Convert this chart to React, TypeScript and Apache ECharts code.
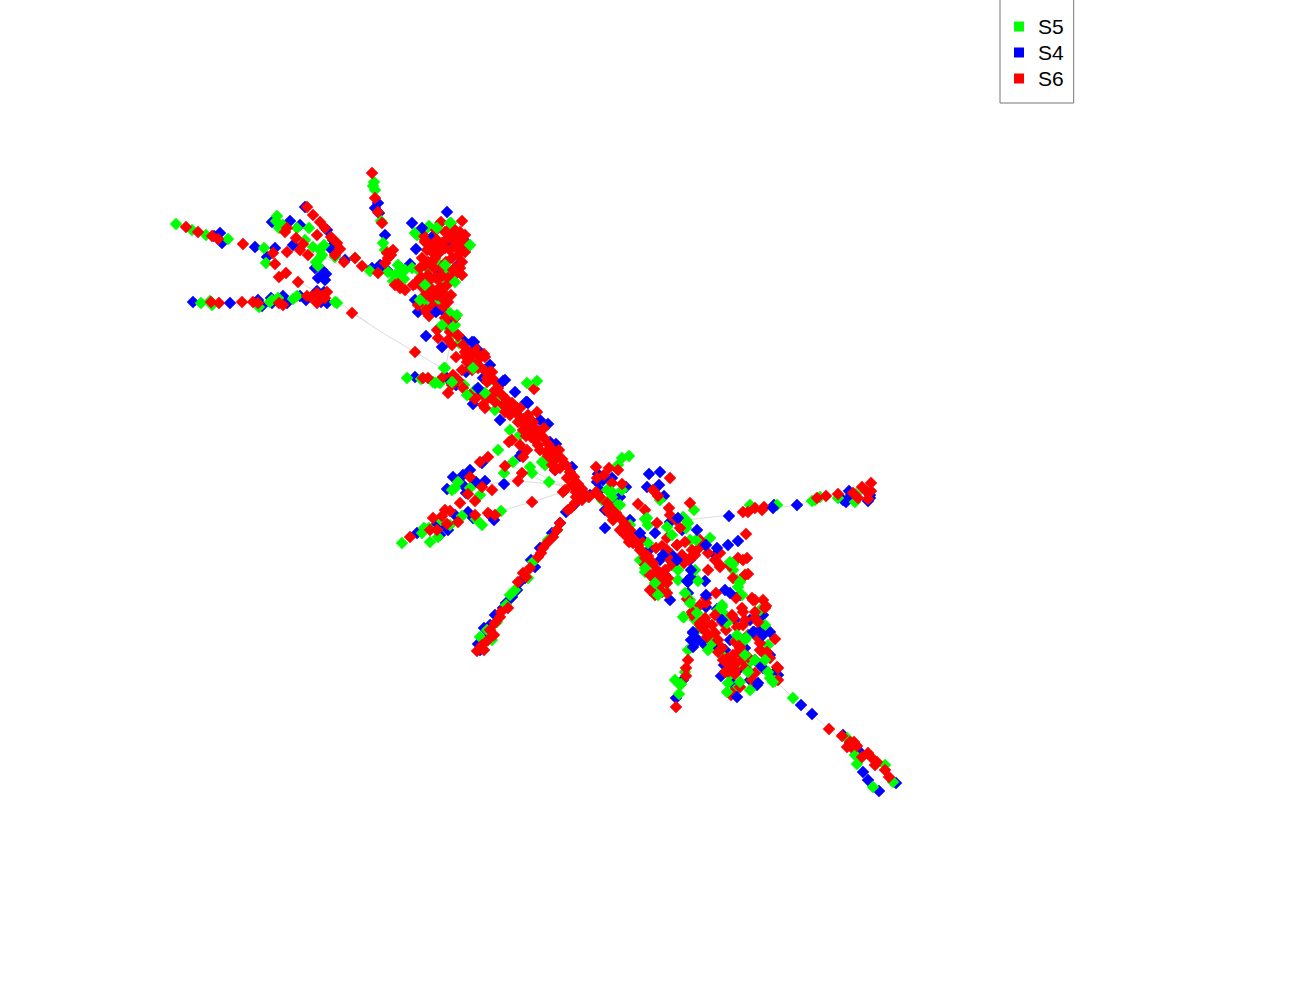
import React, { useEffect, useRef } from "react";
import * as echarts from "echarts";

const S4: number[][] = [
[220,233],[222,243],[214,236],[255,247],[275,248],[267,257],[230,303],[193,302],[258,300],[262,306],[272,303],[271,298],[283,296],[287,303],[300,296],[306,300],[317,291],[321,302],[327,303],[324,292],
[272,222],[290,221],[300,225],[305,207],[327,230],[333,240],[336,245],[293,245],[330,248],[345,260],[315,268],[322,270],[323,276],[318,278],[326,274],[325,280],[375,208],[378,203],[379,213],[385,235],[372,268],[380,265],[387,270],[410,264],[432,237],[422,302],[415,300],[418,312],[445,313],[438,275],[451,244],[458,265],[464,240],
[452,322],[463,340],[474,342],[478,350],[490,365],[483,378],[505,380],[526,402],[528,403],[510,405],[540,420],[548,424],[550,442],[556,444],[555,470],[572,467],[603,480],[598,474],[473,404],[415,377],[447,378],[456,385],[466,372],[500,420],[520,456],[522,453],
[482,463],[470,470],[453,477],[463,475],[463,485],[476,482],[485,481],[447,489],[466,493],[504,484],[468,512],[494,520],[448,530],[417,533],[473,518],[490,515],[455,515],[445,526],[440,535],[436,525],
[480,650],[478,644],[485,640],[489,632],[484,628],[495,615],[503,608],[512,597],[517,590],[520,582],[531,560],[540,548],[552,533],[560,523],[566,512],[574,505],[535,567],[525,578],[506,603],[490,625],
[590,495],[600,490],[597,482],[612,478],[615,500],[620,497],[626,487],[649,474],[647,487],[659,485],[664,496],[660,472],[605,510],[630,520],[641,538],[655,533],[670,522],[682,530],[650,549],[660,560],[665,575],[672,555],[690,560],[705,545],[715,555],[738,541],[797,505],[774,505],[843,500],[849,491],[851,495],[846,502],[868,501],[870,498],[850,498],
[705,581],[688,582],[691,577],[670,600],[688,593],[725,590],[706,607],[717,609],[727,617],[735,620],[740,595],[763,615],[760,630],[770,632],[754,632],[750,620],[693,633],[698,640],[705,645],[716,646],[725,650],[730,640],[738,670],[750,680],[721,676],[760,665],[770,655],[775,672],[778,675],[763,668],[755,660],[745,648],[757,685],[724,665],[732,683],[683,680],[676,698],[691,640],
[801,705],[812,714],[860,752],[863,772],[868,780],[879,791],[896,783],[850,743],[843,735],[870,495]
];

const S5: number[][] = [
[176,224],[192,230],[206,235],[228,239],[264,248],[266,263],[201,303],[212,305],[210,301],[259,307],[270,302],[278,298],[293,299],[297,296],[337,303],[335,302],[272,300],
[277,216],[276,221],[279,228],[283,225],[297,228],[309,228],[305,240],[313,247],[320,250],[322,255],[316,262],[318,266],[320,258],[335,257],[355,258],[324,245],[374,182],[373,186],[375,190],[381,221],[383,243],[385,250],[370,271],[398,265],[400,272],[395,275],[388,272],[393,281],[404,279],[401,268],[412,268],[405,270],[399,278],[417,235],[423,232],[429,226],[440,223],[451,223],[468,247],[452,232],[433,250],[429,270],[440,265],[448,272],[418,270],[442,283],[447,296],[438,300],[425,305],[450,313],[445,325],[455,325],[453,333],[459,343],
[445,368],[407,378],[433,382],[438,382],[440,383],[421,379],[464,385],[475,390],[490,380],[500,395],[512,410],[530,423],[520,435],[505,405],[495,410],[510,430],[535,440],[542,462],[545,465],[549,482],[498,450],[513,462],[530,467],[532,473],[504,473],[501,511],[482,525],[476,519],[462,516],[480,495],[455,488],[470,488],[402,543],[430,542],[429,528],[422,533],[450,525],[438,537],[452,490],[458,482],[424,528],[441,520],
[492,640],[483,645],[480,637],[487,630],[497,622],[510,595],[528,578],[533,562],[548,540],[506,605],[515,590],[557,530],
[588,497],[602,500],[612,497],[617,505],[622,490],[618,465],[629,456],[622,458],[607,490],[648,525],[645,519],[683,517],[686,528],[660,500],[690,540],[648,543],[630,525],[640,560],[645,572],[660,580],[665,590],[656,586],[695,570],[730,565],[733,570],[737,580],[742,595],[745,575],[678,580],[684,617],[690,600],[722,605],[725,615],[718,610],[694,610],[715,640],[722,655],[712,643],[736,640],[738,665],[750,662],[735,690],[730,675],[765,652],[775,681],[770,678],[768,645],[700,628],[695,620],[675,680],[681,684],[685,672],[688,650],[760,610],[765,625],[745,640],[748,670],
[793,698],[857,764],[873,787],[885,765],[893,782],[812,501],[855,502],[820,497],[838,498],[815,500],[777,505],[856,494],[750,505],[847,738],[855,755],[710,538],[686,520],[694,510]
];

const S6: number[][] = [
[186,227],[198,232],[212,236],[218,239],[243,244],[273,253],[275,264],[287,252],[279,277],[286,273],[298,282],[307,207],[313,215],[320,222],[287,228],[296,238],[317,235],[331,237],[308,255],[300,250],[340,249],[344,262],[335,255],[325,228],[285,232],[303,244],[337,243],[362,266],[355,258],
[211,302],[219,303],[242,302],[253,302],[258,303],[279,303],[307,296],[317,303],[317,293],[327,292],[325,298],[352,313],[415,352],[311,297],[322,296],[283,305],
[372,173],[375,198],[378,212],[382,223],[393,250],[387,253],[388,258],[378,273],[400,288],[395,285],[413,285],[391,255],[385,263],[405,290],[398,284],
[441,222],[462,221],[425,240],[430,245],[437,240],[445,232],[450,228],[455,230],[460,232],[465,235],[463,240],[458,236],[453,240],[448,238],[442,243],[436,246],[432,252],[427,250],[422,258],[428,262],[435,258],[440,252],[445,248],[450,250],[455,246],[460,248],[465,252],[458,255],[452,258],[446,262],[441,268],[434,268],[428,275],[420,268],[425,282],[430,280],[436,278],[442,276],[448,278],[440,287],[433,290],[427,292],[421,286],[415,284],[424,296],[418,305],[431,298],[437,295],[444,300],[451,295],[455,275],[460,268],[462,262],[453,270],[447,285],[420,278],[426,310],[433,306],[438,310],[429,316],[444,306],[423,235],[436,230],[432,262],
[425,242],[438,248],[452,238],[460,245],[455,268],[462,275],[425,265],[422,278],[438,278],[430,288],[442,292],[448,302],[427,313],[445,318],[437,330],[438,338],[448,340],[458,335],[465,352],[475,348],[485,357],[467,362],[478,368],[492,372],[487,382],[495,392],[485,408],[512,408],[520,408],
[448,325],[455,318],[450,332],[458,336],[463,345],[467,350],[471,355],[475,352],[480,358],[472,362],[465,356],[484,354],[478,365],[484,370],[490,372],[487,378],[494,380],[499,385],[493,392],[488,398],[483,405],[495,402],[502,395],[507,400],[512,403],[517,408],[512,412],[518,415],[524,419],[528,415],[533,422],[537,412],[534,427],[539,433],[544,438],[548,444],[553,450],[558,456],[554,461],[562,459],[566,465],[570,472],[574,477],[578,484],[582,489],[585,494],[580,495],[589,497],[576,492],[423,378],[428,378],[443,377],[453,375],[448,393],[475,399],[458,380],[463,388],[452,385],[470,395],[482,394],[534,389],[505,412],[544,428],[559,450],[498,388],[472,370],[462,370],[456,357],[452,345],
[525,425],[531,437],[538,445],[546,452],[552,465],[560,468],[567,478],[572,485],[565,490],[555,470],[548,456],[540,450],[535,440],[523,430],[518,422],[510,415],[503,405],
[488,457],[505,466],[523,457],[522,473],[518,481],[492,490],[532,502],[563,492],[475,501],[460,503],[482,487],[470,477],[488,513],[450,511],[442,516],[437,530],[410,537],[433,518],[458,522],[447,524],[495,515],[475,515],[430,530],[445,510],[512,440],[520,445],[526,436],[509,442],[531,430],[527,450],[468,494],[480,462],
[477,651],[490,630],[495,623],[500,617],[508,608],[494,635],[488,640],[482,645],[523,573],[530,568],[538,557],[547,543],[553,537],[560,523],[575,503],[582,500],[526,577],[541,553],[543,548],[518,582],[571,508],[557,530],[568,510],[576,497],[484,650],[501,612],
[596,492],[600,497],[604,475],[596,467],[609,468],[618,470],[612,483],[622,484],[597,478],[607,503],[611,508],[616,513],[620,518],[625,524],[630,530],[634,535],[629,542],[638,545],[643,552],[640,540],[648,556],[652,563],[645,565],[657,570],[650,575],[655,580],[660,585],[665,570],[662,592],[668,578],[670,560],[656,548],[677,545],[684,563],[670,515],[690,558],[699,548],[695,555],[708,553],[715,560],[708,570],[720,567],[730,566],[738,558],[747,558],[745,575],[746,534],[720,553],[700,540],[680,528],[676,520],[662,546],[667,550],
[607,510],[613,520],[620,530],[633,543],[640,550],[653,563],[660,573],[667,583],[667,593],[657,523],[667,538],[677,545],[685,542],[682,555],[692,550],[689,560],[720,565],[743,560],[748,574],[733,578],[716,593],[687,599],[706,603],[692,612],[732,615],[743,612],[753,600],[765,608],[755,618],[743,625],[737,627],[700,623],[707,623],[707,637],[715,633],[775,639],[760,643],[740,647],[718,652],[723,660],[730,667],[725,672],[735,663],[732,693],[740,687],[755,673],[767,652],[778,680],[777,667],[611,515],[625,535],[645,558],[662,580],[650,590],[672,565],[655,595],
[718,640],[726,630],[733,618],[712,625],[705,618],[700,625],[706,632],[715,615],[722,622],[736,598],[742,608],[752,598],[755,600],[763,600],[766,606],[755,612],[745,620],[748,635],[758,622],[700,605],[692,615],[706,598],[760,650],[762,652],[758,638],[725,660],[730,665],[735,670],[728,658],[733,655],[722,648],[738,652],[742,660],[740,648],[735,642],[745,668],[728,672],[748,657],[732,662],[736,663],[752,680],[735,674],[731,695],[778,668],[770,658],[702,628],
[676,707],[686,668],[688,660],[686,676],
[743,512],[748,512],[755,508],[762,510],[764,507],[817,498],[826,496],[838,494],[853,493],[862,487],[871,483],[871,491],[868,499],[858,498],[866,491],[829,729],[842,736],[850,742],[847,747],[857,746],[862,757],[872,758],[875,765],[885,770],[889,777],[851,747],[854,742],[877,762],[868,753],[669,508],[638,504],[645,510],[658,496],[670,478],[653,490],[690,503]
];

const S5Top: number[][] = [
[688,523],[647,518],[696,540],[667,527],[672,535],[698,581],[678,570],[730,562],[733,564],[738,587],[740,582],[685,593],[690,603],[683,617],[697,613],[722,607],[727,623],[747,637],[737,635],[745,655],[755,660],[768,672],[748,672],[680,685],[679,694],[728,683],[727,692],[750,690],[740,682],[773,682],[765,660],[658,595],[655,583],[645,568],[708,650],
[470,245],[415,233],[437,228],[450,223],[445,265],[455,282],[425,285],[420,300],[457,315],[442,325],[453,327],[444,368],[473,368],[467,395],[485,393],[537,381],[527,383],[435,383],[452,382],
[620,505],[612,492]
];

const S4Top: number[][] = [
[728,545],[691,570],[687,581],[706,595],[730,593],[717,548],[706,545],[677,560],[663,555],[640,533],[605,528],[693,632],[693,647],[737,697],[758,683],[753,632],[763,635],[722,620],[678,518],[697,530],[773,508],[729,516],
[447,212],[412,223],[422,228],[416,249],[436,312],[426,336],[442,347],[472,342],[503,381],[515,392],[527,402],[478,388]
];

const edges: number[][][] = [
[[386,335],[415,352],[445,370]],[[352,313],[386,335]],[[340,303],[368,323]],[[298,282],[340,303]],
[[500,511],[532,502],[563,492],[582,495]],[[549,482],[585,492]],[[470,485],[520,481],[560,485]],[[490,490],[530,470],[570,488]],[[505,462],[540,480],[575,490]],
[[686,520],[730,515],[762,510],[797,505],[812,501]],[[793,698],[812,714],[829,729],[850,745]],[[775,680],[793,698]],
[[660,500],[698,580]],[[698,580],[716,600]],[[385,265],[430,300]],[[388,268],[425,296]],[[392,270],[420,298]],[[350,258],[385,275]],[[280,250],[320,255],[345,268]],[[340,250],[365,268]],
[[445,370],[450,345]],[[400,288],[427,315]],[[425,300],[445,320]]
];

const legendItems = ["S5", "S4", "S6"];
const colors: Record<string, string> = { S5: "#00ff00", S4: "#0000ff", S6: "#ff0000" };

const scatter = (name: string, data: number[][]) => ({
  name,
  type: "scatter",
  data,
  symbol: "diamond",
  symbolSize: 12.5,
  z: 3,
  itemStyle: { color: colors[name], opacity: 1 },
  silent: true,
});

export default function App() {
  const ref = useRef<HTMLDivElement>(null);
  useEffect(() => {
    document.body.style.margin = "0";
    const chart = echarts.init(ref.current!, null, { renderer: "svg" });
    const edgeData: (number[] | null)[] = [];
    edges.forEach((e) => {
      e.forEach((p) => edgeData.push(p));
      edgeData.push(null);
    });
    chart.setOption({
      animation: false,
      backgroundColor: "#fff",
      grid: { left: 0, right: 0, top: 0, bottom: 0 },
      xAxis: { type: "value", min: 0, max: 1300, show: false },
      yAxis: { type: "value", min: 0, max: 1000, inverse: true, show: false },
      legend: {
        data: legendItems.map((n) => ({ name: n, icon: "rect", itemStyle: { color: colors[n] } })),
        orient: "vertical",
        left: 1000,
        top: -1,
        padding: [17, 10, 14, 14],
        itemWidth: 10,
        itemHeight: 10,
        itemGap: 5,
        selectedMode: false,
        borderColor: "#777",
        borderWidth: 1,
        borderRadius: 0,
        textStyle: { fontFamily: "Liberation Sans", fontSize: 21, color: "#000", padding: [0, 0, 0, 9], lineHeight: 20 },
      },
      series: [
        {
          type: "line",
          name: "edges",
          data: edgeData,
          connectNulls: false,
          showSymbol: false,
          symbol: "none",
          silent: true,
          z: 1,
          lineStyle: { color: "#dddddd", width: 1 },
        },
        scatter("S4", S4),
        scatter("S5", S5),
        scatter("S6", S6),
        scatter("S5", S5Top),
        scatter("S4", S4Top),
      ],
    });
    return () => chart.dispose();
  }, []);
  return <div ref={ref} style={{ position: "absolute", left: 0, top: 0, width: 1300, height: 1000 }} />;
}
